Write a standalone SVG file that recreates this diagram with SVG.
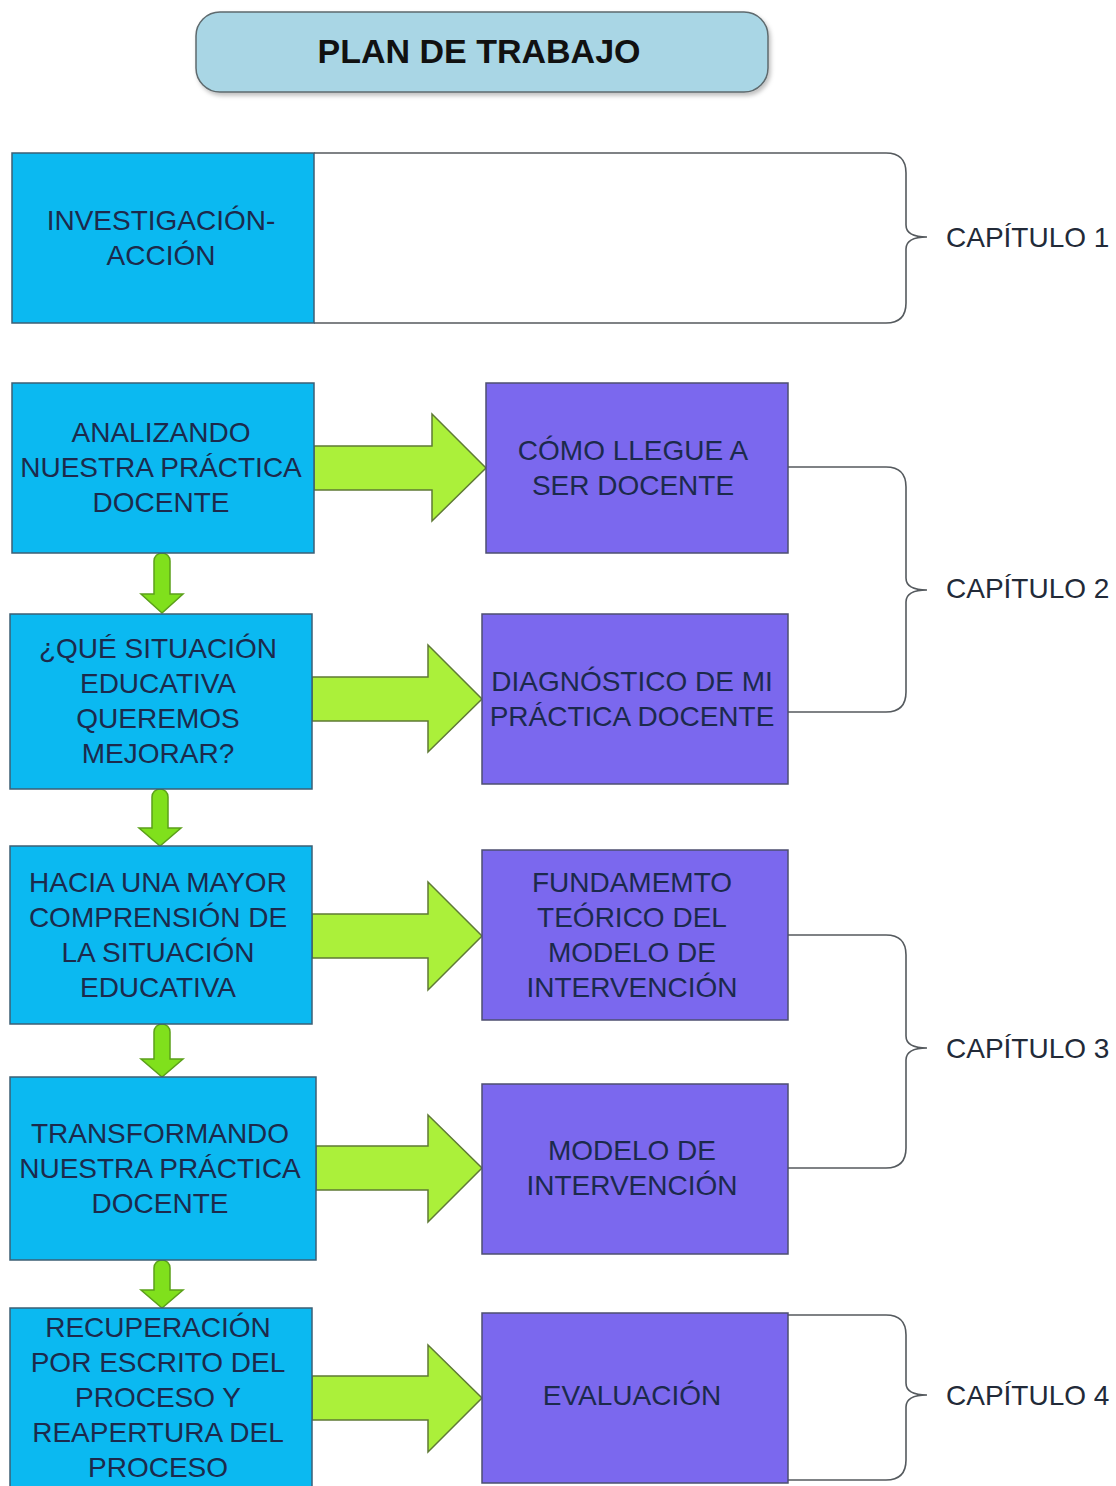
<svg xmlns="http://www.w3.org/2000/svg" width="1116" height="1486" viewBox="0 0 1116 1486">
<defs>
<style>
.bg{fill:#ffffff}
.cyan{fill:#0bb9f1;stroke:#3d5f74;stroke-width:1.5}
.purple{fill:#7b68ee;stroke:#4d4f70;stroke-width:1.5}
.t{font-family:"Liberation Sans",Arial,sans-serif;font-size:28px;fill:#1c2a4c;text-anchor:middle}
.cap{font-family:"Liberation Sans",Arial,sans-serif;font-size:28px;fill:#222a38}
.big{fill:#abf03a;stroke:#5f7a35;stroke-width:1.5;stroke-linejoin:miter}
.small{fill:#80e01c;stroke:#5ba01a;stroke-width:1.5}
.brace{fill:none;stroke:#555a5e;stroke-width:1.6}
</style>
<filter id="sh" x="-5%" y="-5%" width="115%" height="125%">
<feDropShadow dx="2" dy="3" stdDeviation="2" flood-color="#000" flood-opacity="0.25"/>
</filter>
</defs>
<rect class="bg" x="0" y="0" width="1116" height="1486"/>

<g id="title">
<rect x="196" y="12" width="572" height="80" rx="24" fill="#a9d6e5" stroke="#5e6a6e" stroke-width="1.5" filter="url(#sh)"/>
<text x="479" y="63" font-family="Liberation Sans,Arial,sans-serif" font-size="34" font-weight="bold" fill="#111" text-anchor="middle">PLAN DE TRABAJO</text>
</g>

<g id="connectors">
<path class="big" d="M314 446 H432 V414 L486 468 L432 521 V490 H314 Z"/>
<path class="big" d="M312 677 H428 V645 L482 699 L428 752 V721 H312 Z"/>
<path class="big" d="M312 914 H428 V882 L482 936 L428 990 V958 H312 Z"/>
<path class="big" d="M316 1146 H428 V1115 L482 1168 L428 1222 V1190 H316 Z"/>
<path class="big" d="M312 1376 H428 V1345 L482 1398 L428 1452 V1420 H312 Z"/>
<path class="small" d="M154 561 A8 8 0 0 1 170 561 V594 H183 L162 613 L141 594 H154 Z"/>
<path class="small" d="M152 797 A8 8 0 0 1 168 797 V828 H181 L160 846 L139 828 H152 Z"/>
<path class="small" d="M154 1032 A8 8 0 0 1 170 1032 V1059 H183 L162 1077 L141 1059 H154 Z"/>
<path class="small" d="M154 1268 A8 8 0 0 1 170 1268 V1290 H183 L162 1308 L141 1290 H154 Z"/>
<path class="brace" d="M314 153 H886 Q906 153 906 173 V225 Q906 237 927 237 Q906 237 906 249 V303 Q906 323 886 323 H314"/>
<path class="brace" d="M788 467 H886 Q906 467 906 487 V578 Q906 590 927 590 Q906 590 906 602 V692 Q906 712 886 712 H788"/>
<path class="brace" d="M788 935 H886 Q906 935 906 955 V1036 Q906 1048 927 1048 Q906 1048 906 1060 V1148 Q906 1168 886 1168 H788"/>
<path class="brace" d="M788 1315 H886 Q906 1315 906 1335 V1383 Q906 1395 927 1395 Q906 1395 906 1407 V1460 Q906 1480 886 1480 H788"/>
</g>

<g id="n1"><rect class="cyan" x="12" y="153" width="302" height="170"/>
<text class="t" x="161" y="230">INVESTIGACIÓN-</text><text class="t" x="161" y="265">ACCIÓN</text></g>

<g id="n2"><rect class="cyan" x="12" y="383" width="302" height="170"/>
<text class="t" x="161" y="442">ANALIZANDO</text><text class="t" x="161" y="477">NUESTRA PRÁCTICA</text><text class="t" x="161" y="512">DOCENTE</text></g>

<g id="n3"><rect class="cyan" x="10" y="614" width="302" height="175"/>
<text class="t" x="158" y="658">¿QUÉ SITUACIÓN</text><text class="t" x="158" y="693">EDUCATIVA</text><text class="t" x="158" y="728">QUEREMOS</text><text class="t" x="158" y="763">MEJORAR?</text></g>

<g id="n4"><rect class="cyan" x="10" y="846" width="302" height="178"/>
<text class="t" x="158" y="892">HACIA UNA MAYOR</text><text class="t" x="158" y="927">COMPRENSIÓN DE</text><text class="t" x="158" y="962">LA SITUACIÓN</text><text class="t" x="158" y="997">EDUCATIVA</text></g>

<g id="n5"><rect class="cyan" x="10" y="1077" width="306" height="183"/>
<text class="t" x="160" y="1143">TRANSFORMANDO</text><text class="t" x="160" y="1178">NUESTRA PRÁCTICA</text><text class="t" x="160" y="1213">DOCENTE</text></g>

<g id="n6"><rect class="cyan" x="10" y="1308" width="302" height="190"/>
<text class="t" x="158" y="1337">RECUPERACIÓN</text><text class="t" x="158" y="1372">POR ESCRITO DEL</text><text class="t" x="158" y="1407">PROCESO Y</text><text class="t" x="158" y="1442">REAPERTURA DEL</text><text class="t" x="158" y="1477">PROCESO</text></g>

<g id="p1"><rect class="purple" x="486" y="383" width="302" height="170"/>
<text class="t" x="633" y="460">CÓMO LLEGUE A</text><text class="t" x="633" y="495">SER DOCENTE</text></g>

<g id="p2"><rect class="purple" x="482" y="614" width="306" height="170"/>
<text class="t" x="632" y="691">DIAGNÓSTICO DE MI</text><text class="t" x="632" y="726">PRÁCTICA DOCENTE</text></g>

<g id="p3"><rect class="purple" x="482" y="850" width="306" height="170"/>
<text class="t" x="632" y="892">FUNDAMEMTO</text><text class="t" x="632" y="927">TEÓRICO DEL</text><text class="t" x="632" y="962">MODELO DE</text><text class="t" x="632" y="997">INTERVENCIÓN</text></g>

<g id="p4"><rect class="purple" x="482" y="1084" width="306" height="170"/>
<text class="t" x="632" y="1160">MODELO DE</text><text class="t" x="632" y="1195">INTERVENCIÓN</text></g>

<g id="p5"><rect class="purple" x="482" y="1313" width="306" height="170"/>
<text class="t" x="632" y="1405">EVALUACIÓN</text></g>

<g id="labels">
<text class="cap" x="946" y="247">CAPÍTULO 1</text>
<text class="cap" x="946" y="598">CAPÍTULO 2</text>
<text class="cap" x="946" y="1058">CAPÍTULO 3</text>
<text class="cap" x="946" y="1405">CAPÍTULO 4</text>
</g>
</svg>
